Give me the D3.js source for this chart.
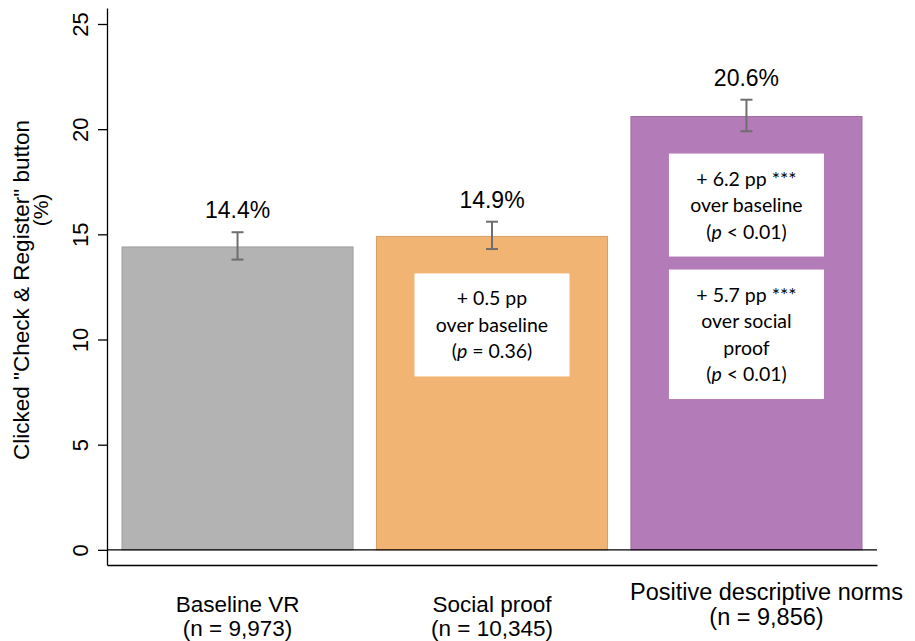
<!DOCTYPE html>
<html>
<head>
<meta charset="utf-8">
<script src="https://cdn.jsdelivr.net/npm/d3@7"></script>
<style>
  body { margin: 0; background: #fff; }
  svg text { font-family: "Liberation Sans", Arial, Helvetica, sans-serif; fill: #000; }
  .note text { font-family: Lato, "Open Sans", sans-serif; }
</style>
</head>
<body>
<svg id="chart" width="915" height="641"></svg>
<script>
const categories = ["Baseline VR", "Social proof", "Positive descriptive norms"];
const sampleSizes = ["9,973", "10,345", "9,856"];
const clickRates = [14.4, 14.9, 20.6]; // %
const ciLow = [13.8, 14.3, 19.9];
const ciHigh = [15.1, 15.6, 21.4];
const yTicks = [0, 5, 10, 15, 20, 25];

// text boxes drawn inside each bar, _p_ marks the italic p
const notes = [
    [],
    [["+ 0.5 pp", "over baseline", "(_p_ = 0.36)"]],
    [["+ 6.2 pp ***", "over baseline", "(_p_ < 0.01)"],
     ["+ 5.7 pp ***", "over social", "proof", "(_p_ < 0.01)"]]
];

const fills = ["#b3b3b3", "#f2b472", "#b37cb9"];

const svg = d3.select("#chart");

const x = d3.scaleBand()
    .domain(categories)
    .range([107, 877])
    .paddingInner(0.092)
    .paddingOuter(0.059);

const y = d3.scaleLinear()
    .domain([-0.72, 25.76])
    .range([565, 8]);

// y axis
const yAxis = svg.append("g")
    .attr("transform", "translate(107,0)")
    .call(d3.axisLeft(y).tickValues(yTicks).tickSize(9).tickSizeOuter(0));

yAxis.selectAll("path, line").attr("stroke", "#000").attr("stroke-width", 1.3);
yAxis.selectAll("text")
    .attr("x", null)
    .attr("dy", null)
    .attr("text-anchor", "middle")
    .attr("transform", "translate(-19,0) rotate(-90)")
    .style("font-size", "22px");

svg.append("text")
    .attr("transform", "translate(29,290) rotate(-90)")
    .attr("text-anchor", "middle")
    .style("font-size", "22.5px")
    .text('Clicked "Check & Register" button');

svg.append("text")
    .attr("transform", "translate(48,210) rotate(-90)")
    .attr("text-anchor", "middle")
    .style("font-size", "21px")
    .text("(%)");

// bars
const rows = categories.map((c, i) => ({
    name: c, n: sampleSizes[i], val: clickRates[i],
    lo: ciLow[i], hi: ciHigh[i], fill: fills[i], notes: notes[i]
}));

svg.append("g")
    .selectAll("rect")
    .data(rows)
    .join("rect")
    .attr("x", d => x(d.name))
    .attr("y", d => y(d.val))
    .attr("width", x.bandwidth())
    .attr("height", d => y(0) - y(d.val))
    .attr("fill", d => d.fill)
    .attr("stroke", d => d3.color(d.fill).darker(0.35))
    .attr("stroke-width", 1);

// zero line
svg.append("line")
    .attr("x1", 107).attr("x2", 877)
    .attr("y1", y(0)).attr("y2", y(0))
    .attr("stroke", "#000")
    .attr("stroke-width", 1.3);

// bottom axis
const xAxis = svg.append("g")
    .attr("transform", "translate(0,565)")
    .call(d3.axisBottom(x).tickSize(0).tickSizeOuter(0));

xAxis.select(".domain").attr("stroke", "#000").attr("stroke-width", 1.3);
xAxis.selectAll("text").remove();

// the last label sits a little higher and to the right in the original
const ticks = xAxis.selectAll(".tick");
ticks.append("text")
    .attr("text-anchor", "middle")
    .style("font-size", (d, i) => i === 2 ? "23.5px" : "22.5px")
    .attr("x", (d, i) => i === 2 ? 20 : 0)
    .attr("y", (d, i) => i === 2 ? 35 : 47)
    .text(d => d);
ticks.append("text")
    .attr("text-anchor", "middle")
    .style("font-size", (d, i) => i === 2 ? "23.5px" : "22.5px")
    .attr("x", (d, i) => i === 2 ? 20 : 0)
    .attr("y", (d, i) => i === 2 ? 60 : 71)
    .text((d, i) => "(n = " + sampleSizes[i] + ")");

// error bars
const cap = 6;
const err = svg.append("g")
    .attr("stroke", "#6e6e6e")
    .attr("stroke-width", 2);

rows.forEach(d => {
    const cx = x(d.name) + x.bandwidth() / 2;
    err.append("line").attr("x1", cx).attr("x2", cx).attr("y1", y(d.lo)).attr("y2", y(d.hi));
    err.append("line").attr("x1", cx - cap).attr("x2", cx + cap).attr("y1", y(d.lo)).attr("y2", y(d.lo));
    err.append("line").attr("x1", cx - cap).attr("x2", cx + cap).attr("y1", y(d.hi)).attr("y2", y(d.hi));
});

svg.append("g")
    .selectAll("text")
    .data(rows)
    .join("text")
    .attr("x", d => x(d.name) + x.bandwidth() / 2)
    .attr("y", d => y(d.hi) - 14)
    .attr("text-anchor", "middle")
    .style("font-size", "23px")
    .text(d => d3.format(".1f")(d.val) + "%");

// note boxes
const boxW = 155;
const lineH = 26.5;
const noteG = svg.append("g").attr("class", "note");

rows.forEach(d => {
    const cx = x(d.name) + x.bandwidth() / 2;
    let top = y(d.val) + 37;
    d.notes.forEach(lines => {
        const h = 32 + (lines.length - 1) * lineH + 18;
        noteG.append("rect")
            .attr("x", cx - boxW / 2).attr("y", top)
            .attr("width", boxW).attr("height", h)
            .attr("fill", "#fff");
        lines.forEach((line, k) => {
            const t = noteG.append("text")
                .attr("x", cx)
                .attr("y", top + 32 + k * lineH)
                .attr("text-anchor", "middle")
                .style("font-size", "19.5px");
            const parts = line.split("_p_");
            parts.forEach((part, j) => {
                if (j > 0) t.append("tspan").style("font-style", "italic").text("p");
                t.append("tspan").text(part);
            });
        });
        top += h + 13;
    });
});
</script>
</body>
</html>
